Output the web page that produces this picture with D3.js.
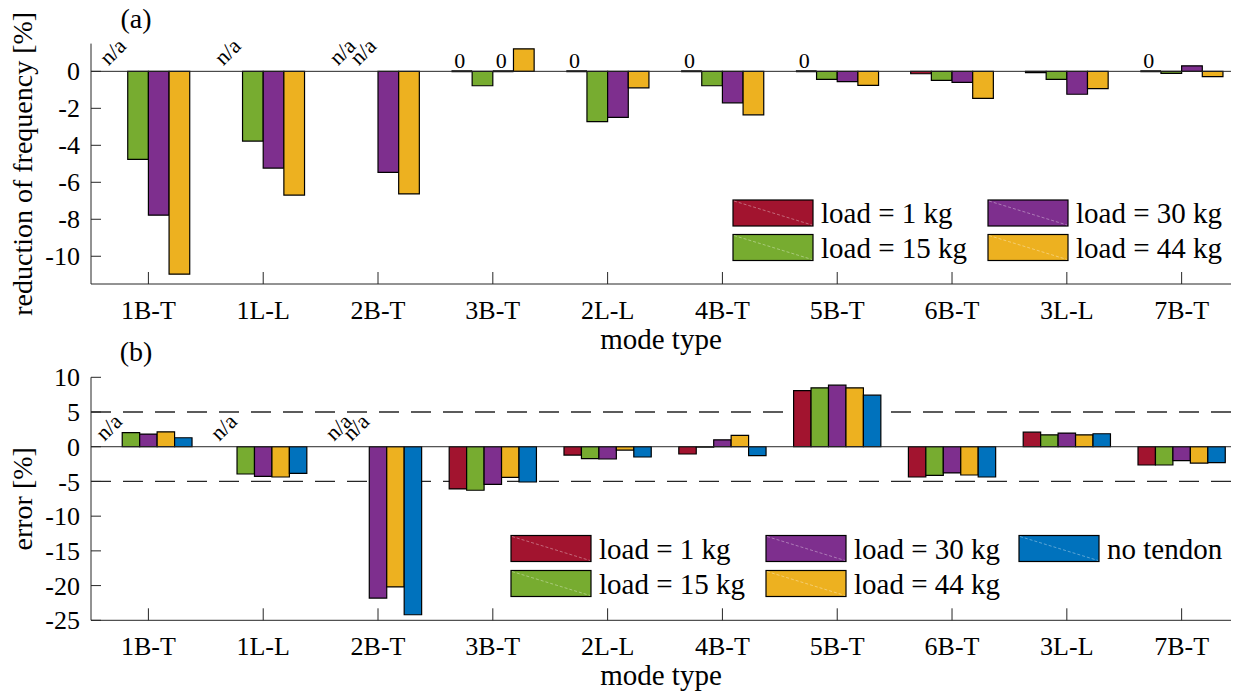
<!DOCTYPE html>
<html>
<head>
<meta charset="utf-8">
<script src="https://cdn.jsdelivr.net/npm/d3@7"></script>
<style>
  body { margin: 0; background: #fff; }
</style>
</head>
<body>
<div id="chart"></div>
<script>
// mode types along the x axis
const modes = ["1B-T", "1L-L", "2B-T", "3B-T", "2L-L", "4B-T", "5B-T", "6B-T", "3L-L", "7B-T"];
const seriesNames = ["load = 1 kg", "load = 15 kg", "load = 30 kg", "load = 44 kg", "no tendon"];
const colors = ["#A2142F", "#77AC30", "#7E2F8E", "#EDB120", "#0072BD"];

// (a) reduction of frequency [%], null = n/a
const redLoad1 = [null, null, null, 0, 0, 0, 0, -0.13, -0.07, 0];
const redLoad15 = [-4.76, -3.77, null, -0.78, -2.72, -0.78, -0.43, -0.49, -0.43, -0.11];
const redLoad30 = [-7.78, -5.23, -5.46, 0, -2.49, -1.70, -0.56, -0.60, -1.24, 0.30];
const redLoad44 = [-10.97, -6.69, -6.63, 1.22, -0.89, -2.35, -0.76, -1.46, -0.94, -0.29];
const redTicks = [-10, -8, -6, -4, -2, 0];

// (b) error [%], null = n/a
const errLoad1 = [null, null, null, -6.08, -1.20, -1.05, 8.09, -4.36, 2.10, -2.63];
const errLoad15 = [2.02, -3.93, null, -6.27, -1.72, -0.05, 8.48, -4.12, 1.72, -2.63];
const errLoad30 = [1.82, -4.26, -21.8, -5.41, -1.77, 1.00, 8.86, -3.78, 1.96, -2.01];
const errLoad44 = [2.15, -4.36, -20.2, -4.41, -0.48, 1.63, 8.48, -4.07, 1.72, -2.35];
const errNoTendon = [1.29, -3.83, -24.2, -5.08, -1.48, -1.29, 7.42, -4.36, 1.87, -2.30];
const errTicks = [-25, -20, -15, -10, -5, 0, 5, 10];
const errLimits = [-5, 5];

const W = 1237, H = 700;
const FONT = "'Liberation Serif', 'Times New Roman', Times, serif";
const svg = d3.select("#chart").append("svg")
  .attr("width", W).attr("height", H)
  .attr("font-family", FONT);
const axisColor = "#262626";

const x = d3.scaleLinear().domain([0.5, 10.43]).range([91, 1231]);

function addText(sel) {
  return sel.append("text").attr("font-family", FONT).attr("fill", "#000");
}

function panel(opt) {
  const y = d3.scaleLinear().domain(opt.domain).range([opt.bottom, opt.top]);
  const g = svg.append("g");
  const n = opt.series.length;
  const spacing = x(2) - x(1);
  const bw = spacing * opt.groupFrac / n;

  const clipId = "clip" + opt.key;
  svg.append("clipPath").attr("id", clipId)
    .append("rect")
    .attr("x", x.range()[0]).attr("y", opt.top - 2)
    .attr("width", x.range()[1] - x.range()[0]).attr("height", opt.bottom - opt.top + 4);

  const plot = g.append("g").attr("clip-path", `url(#${clipId})`);

  // dashed limit lines
  (opt.limits || []).forEach(v => {
    plot.append("line")
      .attr("x1", x.range()[0]).attr("x2", x.range()[1])
      .attr("y1", y(v)).attr("y2", y(v))
      .attr("stroke", axisColor).attr("stroke-width", 1.3)
      .attr("stroke-dasharray", "20,12");
  });

  const bars = [];
  opt.series.forEach((vals, j) => {
    vals.forEach((v, i) => {
      const cx = x(i + 1) + (j - (n - 1) / 2) * bw;
      bars.push({ v, cx, j, i });
    });
  });

  plot.selectAll("path.bar")
    .data(bars.filter(d => d.v !== null))
    .join("path")
    .attr("class", "bar")
    .attr("d", d => {
      const x0 = d.cx - bw / 2, x1 = d.cx + bw / 2;
      const y0 = y(0), y1 = y(d.v);
      return `M${x0},${y0}H${x1}V${y1}H${x0}Z`;
    })
    .attr("fill", d => colors[d.j])
    .attr("stroke", "#000")
    .attr("stroke-width", d => d.v === 0 ? 2 : 1.2);

  // baseline
  plot.append("line")
    .attr("x1", x.range()[0]).attr("x2", x.range()[1])
    .attr("y1", y(0)).attr("y2", y(0))
    .attr("stroke", axisColor).attr("stroke-width", 1);

  // n/a labels
  bars.filter(d => d.v === null).forEach(d => {
    addText(g)
      .attr("transform", `translate(${d.cx - 9},${y(0) - 5}) rotate(-45)`)
      .attr("font-size", 22)
      .text("n/a");
  });

  // zero labels
  if (opt.zeroLabels) {
    bars.filter(d => d.v === 0).forEach(d => {
      addText(g)
        .attr("x", d.cx - 2)
        .attr("y", y(0) - 3)
        .attr("text-anchor", "middle")
        .attr("font-size", 22)
        .text("0");
    });
  }

  // axes
  g.append("line")
    .attr("x1", x.range()[0]).attr("x2", x.range()[0])
    .attr("y1", opt.top).attr("y2", opt.bottom)
    .attr("stroke", axisColor).attr("stroke-width", 1);
  g.append("line")
    .attr("x1", x.range()[0]).attr("x2", x.range()[1])
    .attr("y1", opt.bottom).attr("y2", opt.bottom)
    .attr("stroke", axisColor).attr("stroke-width", 1);

  opt.ticks.forEach(t => {
    g.append("line")
      .attr("x1", x.range()[0]).attr("x2", x.range()[0] + 10)
      .attr("y1", y(t)).attr("y2", y(t))
      .attr("stroke", axisColor);
    addText(g)
      .attr("x", x.range()[0] - 11)
      .attr("y", y(t))
      .attr("dy", "0.35em")
      .attr("text-anchor", "end")
      .attr("font-size", 26)
      .text(t);
  });

  modes.forEach((m, i) => {
    g.append("line")
      .attr("x1", x(i + 1)).attr("x2", x(i + 1))
      .attr("y1", opt.bottom).attr("y2", opt.bottom - 12)
      .attr("stroke", axisColor);
    addText(g)
      .attr("x", x(i + 1))
      .attr("y", opt.bottom + 35)
      .attr("text-anchor", "middle")
      .attr("font-size", 26)
      .text(m);
  });

  addText(g)
    .attr("x", (x.range()[0] + x.range()[1]) / 2)
    .attr("y", opt.bottom + 65)
    .attr("text-anchor", "middle")
    .attr("font-size", 29)
    .text("mode type");

  addText(g)
    .attr("transform", `translate(32,${(opt.top + opt.bottom) / 2}) rotate(-90)`)
    .attr("text-anchor", "middle")
    .attr("font-size", 28)
    .text(opt.yLabel);

  addText(g)
    .attr("x", 136).attr("y", opt.top - 16)
    .attr("text-anchor", "middle")
    .attr("font-size", 28)
    .text(opt.tag);

  // legend
  opt.legend.forEach(e => {
    const lg = g.append("g").attr("transform", `translate(${e.x},${e.y})`);
    lg.append("rect")
      .attr("width", 80).attr("height", 26)
      .attr("fill", colors[e.s]).attr("stroke", "#000").attr("stroke-width", 1.2);
    lg.append("line")
      .attr("x1", 1).attr("y1", 1).attr("x2", 79).attr("y2", 25)
      .attr("stroke", "#fff").attr("stroke-opacity", 0.45)
      .attr("stroke-width", 0.8).attr("stroke-dasharray", "3,2");
    addText(lg)
      .attr("x", 88).attr("y", 13).attr("dy", "0.35em")
      .attr("font-size", 29)
      .text(seriesNames[e.s]);
  });
}

panel({
  key: "a", tag: "(a)",
  top: 43.6, bottom: 284,
  domain: [-11.5, 1.5],
  ticks: redTicks,
  series: [redLoad1, redLoad15, redLoad30, redLoad44],
  groupFrac: 0.72,
  zeroLabels: true,
  yLabel: "reduction of frequency [%]",
  legend: [
    { s: 0, x: 733, y: 200 }, { s: 1, x: 733, y: 234.5 },
    { s: 2, x: 988, y: 200 }, { s: 3, x: 988, y: 234.5 }
  ]
});

panel({
  key: "b", tag: "(b)",
  top: 377.3, bottom: 620.3,
  domain: [-25, 10],
  ticks: errTicks,
  limits: errLimits,
  series: [errLoad1, errLoad15, errLoad30, errLoad44, errNoTendon],
  groupFrac: 0.76,
  zeroLabels: false,
  yLabel: "error [%]",
  legend: [
    { s: 0, x: 511, y: 535.5 }, { s: 1, x: 511, y: 570.5 },
    { s: 2, x: 766, y: 535.5 }, { s: 3, x: 766, y: 570.5 },
    { s: 4, x: 1019, y: 535.5 }
  ]
});
</script>
</body>
</html>
